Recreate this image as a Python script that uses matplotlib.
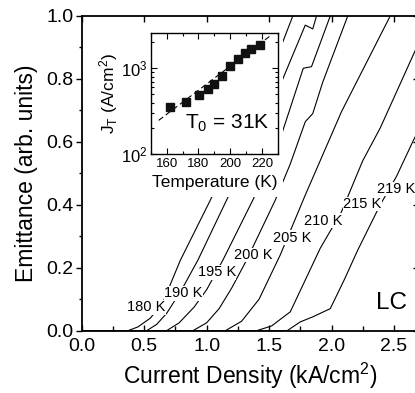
import matplotlib
matplotlib.use("Agg")
import matplotlib.pyplot as plt
from matplotlib.patches import Rectangle
from matplotlib.ticker import MultipleLocator, NullFormatter, LogLocator

plt.rcParams['font.family'] = ['Liberation Sans', 'DejaVu Sans']
plt.rcParams['mathtext.fontset'] = 'custom'
plt.rcParams['mathtext.rm'] = 'Liberation Sans'
plt.rcParams['mathtext.it'] = 'Liberation Sans'

# ---------------- data: main panel (J in kA/cm^2, emittance) ----------------
j_180 = [0, 0.37, 0.45, 0.55, 0.65, 0.79, 1.03, 1.30, 1.59, 1.69]
e_180 = [0, 0.0, 0.012, 0.04, 0.09, 0.224, 0.415, 0.65, 0.897, 1.0]

j_190 = [0, 0.52, 0.60, 0.68, 0.80, 0.93, 1.16, 1.40, 1.59, 1.79, 1.85, 1.88]
e_190 = [0, 0.0, 0.02, 0.055, 0.13, 0.224, 0.415, 0.62, 0.781, 0.971, 0.959, 1.0]

j_195 = [0, 0.68, 0.78, 0.90, 1.00, 1.13, 1.37, 1.59, 1.774, 1.84, 1.99]
e_195 = [0, 0.0, 0.025, 0.075, 0.13, 0.224, 0.415, 0.611, 0.834, 0.839, 1.0]

j_200 = [0, 0.89, 1.00, 1.10, 1.20, 1.32, 1.55, 1.67, 1.79, 1.85, 1.93, 2.13]
e_200 = [0, 0.0, 0.025, 0.07, 0.135, 0.224, 0.415, 0.53, 0.664, 0.69, 0.79, 1.0]

j_205 = [0, 1.15, 1.28, 1.42, 1.59, 1.79, 2.08, 2.47]
e_205 = [0, 0.0, 0.03, 0.10, 0.241, 0.431, 0.696, 1.0]

j_210 = [0, 1.40, 1.52, 1.67, 1.91, 2.08, 2.25, 2.39, 2.67, 2.75]
e_210 = [0, 0.0, 0.015, 0.06, 0.262, 0.378, 0.54, 0.644, 0.89, 0.95]

j_219 = [0, 1.645, 1.75, 1.85, 1.99, 2.10, 2.21, 2.39, 2.52, 2.65, 2.75]
e_219 = [0, 0.0, 0.028, 0.044, 0.07, 0.16, 0.256, 0.40, 0.49, 0.60, 0.68]

temps = ["180 K", "190 K", "195 K", "200 K", "205 K", "210 K", "215 K", "219 K"]
label_j = [0.52, 0.814, 1.083, 1.374, 1.684, 1.932, 2.248, 2.519]
label_e = [0.074, 0.119, 0.185, 0.240, 0.296, 0.350, 0.402, 0.450]

# ---------------- data: inset ----------------
inset_T = [162, 172, 180.5, 186, 190, 195, 200, 205, 209, 213, 219]
inset_J = [352, 409, 489, 574, 657, 820, 1055, 1294, 1507, 1664, 1866]
fit_T = [155, 225]
fit_J = [248, 2370]

curves = [(j_180, e_180), (j_190, e_190), (j_195, e_195), (j_200, e_200),
          (j_205, e_205), (j_210, e_210), (j_219, e_219)]

W, H = 415, 393
fig = plt.figure(figsize=(W / 100, H / 100), dpi=100)

def px_ax(l, r, t, b):
    return [l / W, 1 - b / H, (r - l) / W, (b - t) / H]

ax = fig.add_axes(px_ax(81.7, 81.7 + 2.7 * 124.9, 16, 330.7))
for (jj, ee) in curves:
    ax.plot(jj, ee, color='black', lw=0.8, zorder=2)
for t, x, y in zip(temps, label_j, label_e):
    ax.text(x, y, t, fontsize=10.5, ha='center', va='center', zorder=5,
            bbox=dict(facecolor='white', edgecolor='none', pad=0.2))
ax.text(2.48, 0.087, "LC", fontsize=17.5, ha='center', va='center')

ax.set_xlim(0, 2.7)
ax.set_ylim(0, 1.0)
ax.xaxis.set_major_locator(MultipleLocator(0.5))
ax.xaxis.set_minor_locator(MultipleLocator(0.25))
ax.yaxis.set_major_locator(MultipleLocator(0.2))
ax.yaxis.set_minor_locator(MultipleLocator(0.1))
ax.xaxis.set_major_formatter(plt.FuncFormatter(lambda v, p: f"{v:.1f}"))
ax.yaxis.set_major_formatter(plt.FuncFormatter(lambda v, p: f"{v:.1f}"))
ax.tick_params(axis='x', which='both', direction='in', top=True, labelsize=14, pad=5)
ax.tick_params(axis='x', which='major', length=4, width=1)
ax.tick_params(axis='x', which='minor', length=3.5, width=1, top=False)
ax.tick_params(axis='y', which='both', direction='out', labelsize=14, pad=2)
ax.tick_params(axis='y', which='major', length=4, width=1)
ax.tick_params(axis='y', which='minor', length=2, width=1)
axr = ax.secondary_yaxis('right')
axr.yaxis.set_major_locator(MultipleLocator(0.2))
axr.tick_params(direction='in', length=4, width=1, labelright=False)
for s in ax.spines.values():
    s.set_linewidth(1.3)
axr.spines['right'].set_linewidth(1.3)
ax.set_xlabel("Current Density (kA/cm$^2$)", fontsize=16.5, labelpad=4.5)
ax.set_ylabel("Emittance (arb. units)", fontsize=16.5, labelpad=6)

# white background behind inset and its labels
rect = Rectangle((95 / W, 1 - 197 / H), (283 - 95) / W, (197 - 28) / H,
                 transform=fig.transFigure, facecolor='white', edgecolor='none',
                 zorder=3, clip_on=False)
ax.add_patch(rect)

# ---------------- inset ----------------
ins = fig.add_axes(px_ax(150.7, 278, 33, 154.3))
ins.set_yscale('log')
ins.plot(fit_T, fit_J, color='black', lw=0.8, dashes=(5, 3))
ins.plot(inset_T, inset_J, 's', color='#111111', ms=6)
ins.set_xlim(150, 230)
ins.set_ylim(100, 2570)
ins.xaxis.set_major_locator(MultipleLocator(20))
ins.xaxis.set_minor_locator(MultipleLocator(10))
ins.yaxis.set_major_locator(LogLocator(base=10, numticks=5))
ins.yaxis.set_minor_locator(LogLocator(base=10, subs=range(2, 10), numticks=10))
ins.yaxis.set_minor_formatter(NullFormatter())
ins.tick_params(which='both', direction='in', top=True, right=True, width=0.8)
ins.tick_params(which='major', length=4)
ins.tick_params(which='minor', length=2.5)
ins.tick_params(axis='x', labelsize=9.5, pad=3)
ins.tick_params(axis='y', labelsize=12, pad=2)
for s in ins.spines.values():
    s.set_linewidth(1.0)
ins.set_xlabel("Temperature (K)", fontsize=12.5, labelpad=3)
ins.set_ylabel("J$_T$ (A/cm$^2$)", fontsize=12.5, labelpad=1)
ins.text(0.27, 0.215, "T$_0$ = 31K", transform=ins.transAxes, fontsize=15,
         ha='left', va='baseline')

fig.savefig("out.png", dpi=100)
